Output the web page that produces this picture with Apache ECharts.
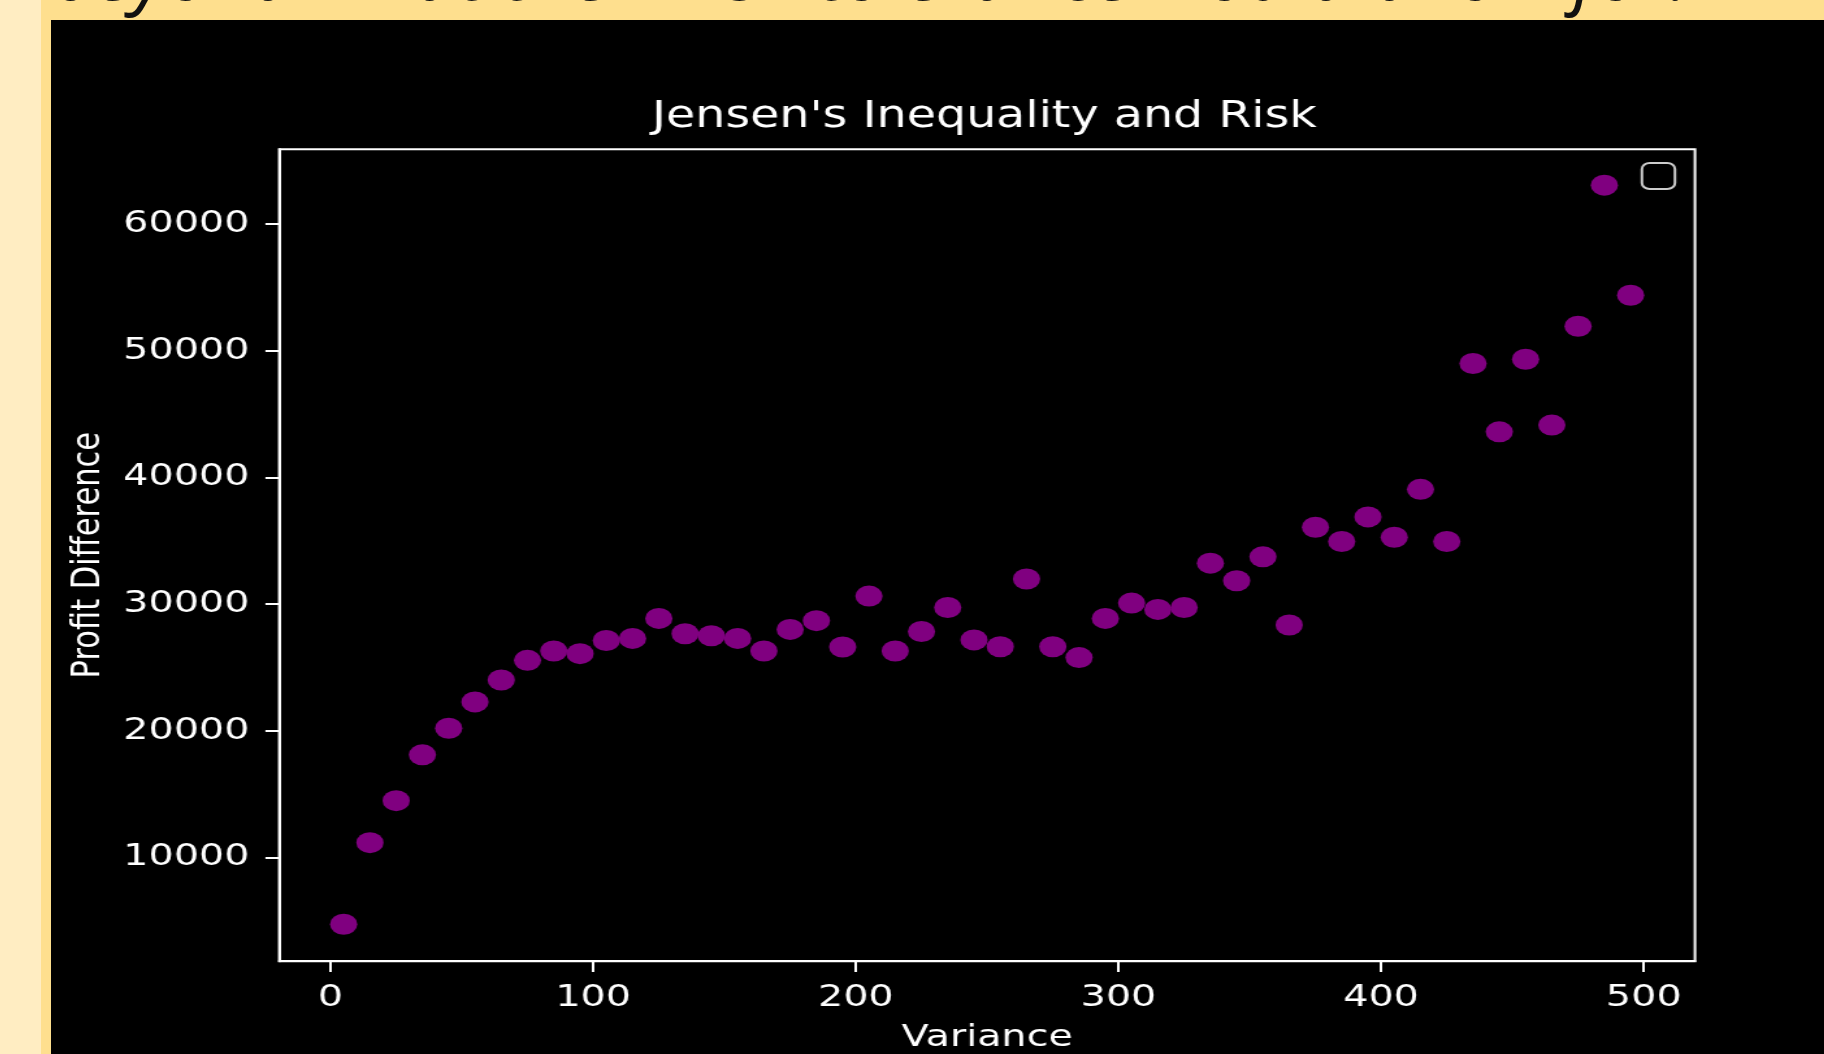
<!DOCTYPE html>
<html>
<head>
<meta charset="utf-8">
<title>Jensen's Inequality and Risk</title>
<script src="https://cdn.jsdelivr.net/npm/echarts@6.0.0/dist/echarts.min.js"></script>
<style>
  html,
  body {
    margin: 0;
    padding: 0;
    width: 1824px;
    height: 1054px;
    overflow: hidden;
    background: #fedf8e;
  }
  .cream {
    position: absolute;
    left: 0;
    top: 0;
    width: 41px;
    height: 1054px;
    background: #ffedc2;
  }
  .banner {
    position: absolute;
    left: 50px;
    top: -67px;
    font-family: "Open Sans";
    font-style: italic;
    font-size: 76px;
    line-height: 75px;
    color: #111;
    white-space: nowrap;
  }
  .panel {
    position: absolute;
    left: 51px;
    top: 20px;
    width: 1773px;
    height: 1034px;
    background: #000;
    overflow: hidden;
  }
  /* the picture is stretched sideways, so the chart is drawn narrow and scaled */
  .echarts1 {
    position: absolute;
    left: 0;
    top: 0;
    width: 1364px;
    height: 1034px;
    transform: scaleX(1.3);
    transform-origin: 0 0;
  }
</style>
</head>
<body>
<div class="cream"></div>
<div class="banner">beyond what their risk tolerance would allow for.</div>
<div class="panel">
  <div class="echarts1" id="echarts"></div>
</div>
<script>
var variance = [
  5, 15, 25, 35, 45, 55, 65, 75, 85, 95,
  105, 115, 125, 135, 145, 155, 165, 175, 185, 195,
  205, 215, 225, 235, 245, 255, 265, 275, 285, 295,
  305, 315, 325, 335, 345, 355, 365, 375, 385, 395,
  405, 415, 425, 435, 445, 455, 465, 475, 485, 495
];
var profitDiff = [
  4720, 11160, 14470, 18090, 20190, 22270, 24000, 25550, 26290, 26080,
  27120, 27280, 28860, 27650, 27490, 27280, 26290, 27990, 28680, 26600,
  30620, 26290, 27830, 29720, 27160, 26620, 31970, 26620, 25770, 28860,
  30070, 29570, 29720, 33220, 31830, 33720, 28340, 36060, 34930, 36870,
  35270, 39050, 34930, 48980, 43590, 49320, 44120, 51920, 63060, 54370
];
var xTicks = [0, 100, 200, 300, 400, 500];
var yTicks = [10000, 20000, 30000, 40000, 50000, 60000];

var font = "DejaVu Sans";

function drawChart() {
  var myChart = echarts.init(document.getElementById("echarts"));
  var option = {
    backgroundColor: "#000",
    animation: false,
    title: {
      text: "Jensen's Inequality and Risk",
      left: 718,
      top: 79,
      padding: 0,
      textAlign: "center",
      textStyle: {
        color: "#fff",
        fontFamily: font,
        fontSize: 36.6,
        fontWeight: "normal",
      },
    },
    grid: {
      left: 175.6,
      right: 99.4,
      top: 129.2,
      bottom: 92.8,
      show: true,
      borderColor: "#fff",
      borderWidth: 2,
      outerBoundsMode: "none",
    },
    xAxis: {
      type: "value",
      min: -19.5,
      max: 519.5,
      name: "Variance",
      nameLocation: "middle",
      nameGap: 61,
      nameTextStyle: {
        color: "#fff",
        fontFamily: font,
        fontSize: 30.5,
      },
      axisLine: {
        show: true,
        onZero: false,
        lineStyle: { color: "#fff", width: 2 },
      },
      axisTick: {
        show: true,
        length: 10.7,
        customValues: xTicks,
        lineStyle: { color: "#fff", width: 2 },
      },
      axisLabel: {
        customValues: xTicks,
        margin: 21,
        color: "#fff",
        fontFamily: font,
        fontSize: 30.5,
        formatter: function (v) {
          return String(v);
        },
      },
      splitLine: { show: false },
    },
    yAxis: {
      type: "value",
      min: 1800,
      max: 65900,
      name: "Profit Difference",
      nameLocation: "middle",
      nameGap: 124,
      nameTextStyle: {
        color: "#fff",
        fontFamily: font,
        fontSize: 30.5,
      },
      axisLine: {
        show: true,
        onZero: false,
        lineStyle: { color: "#fff", width: 2 },
      },
      axisTick: {
        show: true,
        length: 10.7,
        customValues: yTicks,
        lineStyle: { color: "#fff", width: 2 },
      },
      axisLabel: {
        customValues: yTicks,
        margin: 23,
        color: "#fff",
        fontFamily: font,
        fontSize: 30.5,
        formatter: function (v) {
          return String(v);
        },
      },
      splitLine: { show: false },
    },
    series: [
      {
        type: "scatter",
        symbol: "circle",
        symbolSize: 21,
        itemStyle: { color: "#800080", opacity: 1 },
        data: variance.map(function (v, i) {
          return [v, profitDiff[i]];
        }),
      },
    ],
    graphic: [
      {
        // empty legend frame
        type: "rect",
        shape: { x: 1223.8, y: 143, width: 25.4, height: 26, r: 6 },
        style: {
          fill: "#000",
          stroke: "rgba(255, 255, 255, 0.8)",
          lineWidth: 2,
        },
      },
    ],
  };
  myChart.setOption(option);
}

drawChart();
</script>
</body>
</html>
